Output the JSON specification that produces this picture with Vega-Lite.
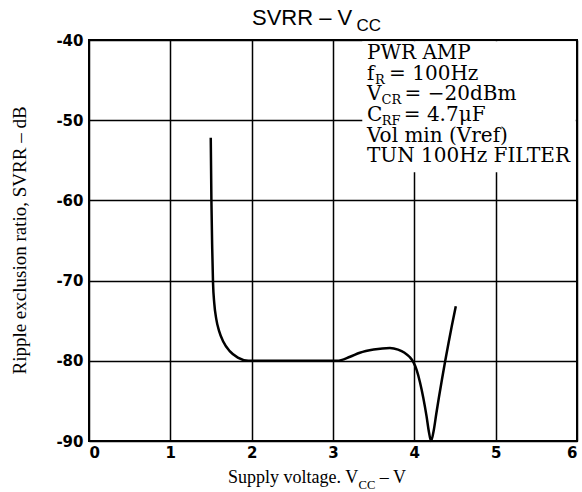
{
  "$schema": "https://vega.github.io/schema/vega-lite/v6.json",
  "autosize": {"type": "none"},
  "width": 488,
  "height": 401,
  "padding": {"left": 89, "top": 40, "right": 5, "bottom": 51},
  "background": "white",
  "config": {
    "view": {"stroke": "black", "strokeWidth": 2},
    "text": {"color": "black", "baseline": "alphabetic", "align": "left"}
  },
  "datasets": {
    "curve": [
      {"v": 1.497, "svrr": -52.2},
      {"v": 1.505, "svrr": -60.0},
      {"v": 1.515, "svrr": -66.0},
      {"v": 1.525, "svrr": -70.3},
      {"v": 1.54, "svrr": -72.8},
      {"v": 1.565, "svrr": -74.8},
      {"v": 1.6, "svrr": -76.3},
      {"v": 1.65, "svrr": -77.6},
      {"v": 1.73, "svrr": -78.8},
      {"v": 1.83, "svrr": -79.6},
      {"v": 1.96, "svrr": -80.0},
      {"v": 2.5, "svrr": -80.0},
      {"v": 3.05, "svrr": -80.0},
      {"v": 3.21, "svrr": -79.5},
      {"v": 3.33, "svrr": -79.0},
      {"v": 3.5, "svrr": -78.6},
      {"v": 3.7, "svrr": -78.4},
      {"v": 3.8, "svrr": -78.6},
      {"v": 3.88, "svrr": -79.0},
      {"v": 3.94, "svrr": -79.5},
      {"v": 3.99, "svrr": -80.2},
      {"v": 4.03, "svrr": -81.2},
      {"v": 4.07, "svrr": -82.7},
      {"v": 4.11, "svrr": -84.6},
      {"v": 4.15, "svrr": -86.9},
      {"v": 4.18, "svrr": -88.9},
      {"v": 4.205, "svrr": -90.0},
      {"v": 4.24, "svrr": -88.6},
      {"v": 4.27, "svrr": -86.6},
      {"v": 4.3, "svrr": -84.7},
      {"v": 4.34, "svrr": -82.3},
      {"v": 4.38, "svrr": -80.0},
      {"v": 4.42, "svrr": -77.8},
      {"v": 4.46, "svrr": -75.7},
      {"v": 4.51, "svrr": -73.2}
    ],
    "one": [{}]
  },
  "layer": [
    {
      "data": {"name": "curve"},
      "mark": {"type": "line", "color": "black", "strokeWidth": 2.5, "interpolate": "monotone"},
      "encoding": {
        "x": {
          "field": "v", "type": "quantitative",
          "scale": {"domain": [0, 6], "nice": false, "zero": false},
          "axis": {
            "values": [0, 1, 2, 3, 4, 5, 6], "format": "d", "grid": true, "gridColor": "black", "gridWidth": 1.5, "gridOpacity": 1,
            "domain": false, "ticks": false, "labelFont": "DejaVu Sans", "labelFontWeight": "bold", "labelFontSize": 15,
            "labelColor": "black", "labelPadding": 4, "labelFlush": true, "title": null
          }
        },
        "y": {
          "field": "svrr", "type": "quantitative",
          "scale": {"domain": [-90, -40], "nice": false, "zero": false},
          "axis": {
            "values": [-90, -80, -70, -60, -50, -40], "grid": true, "gridColor": "black", "gridWidth": 1.5, "gridOpacity": 1,
            "domain": false, "ticks": false, "labelFont": "DejaVu Sans", "labelFontWeight": "bold", "labelFontSize": 15,
            "labelColor": "black", "labelPadding": 6, "labelExpr": "'-' + abs(datum.value)",
            "title": "Ripple exclusion ratio, SVRR – dB", "titleFont": "Liberation Serif", "titleFontSize": 19,
            "titleFontWeight": "normal", "titleColor": "black", "titleX": -70, "titleY": 200, "titleAngle": 270,
            "titleBaseline": "middle", "titleAlign": "center"
          }
        }
      }
    },
    {
      "data": {"name": "one"},
      "mark": {"type": "rect", "color": "white", "opacity": 1},
      "encoding": {"x": {"datum": 3.36}, "x2": {"datum": 5.985}, "y": {"datum": -40.15}, "y2": {"datum": -56.5}}
    },
    {"data": {"name": "one"}, "mark": {"type": "text", "text": "SVRR – V", "font": "Liberation Sans", "fontSize": 22}, "encoding": {"x": {"datum": 2.004}, "y": {"datum": -38.13}}},
    {"data": {"name": "one"}, "mark": {"type": "text", "text": "CC", "font": "Liberation Sans", "fontSize": 17}, "encoding": {"x": {"datum": 3.29}, "y": {"datum": -38.88}}},
    {"data": {"name": "one"}, "mark": {"type": "text", "text": "Supply voltage. V", "font": "Liberation Serif", "fontSize": 18}, "encoding": {"x": {"datum": 1.709}, "y": {"datum": -95.24}}},
    {"data": {"name": "one"}, "mark": {"type": "text", "text": "CC", "font": "Liberation Serif", "fontSize": 12.6}, "encoding": {"x": {"datum": 3.314}, "y": {"datum": -95.99}}},
    {"data": {"name": "one"}, "mark": {"type": "text", "text": "– V", "font": "Liberation Serif", "fontSize": 18}, "encoding": {"x": {"datum": 3.576}, "y": {"datum": -95.24}}},
    {"data": {"name": "one"}, "mark": {"type": "text", "text": "PWR AMP", "font": "DejaVu Serif", "fontSize": 20}, "encoding": {"x": {"datum": 3.418}, "y": {"datum": -42.37}}},
    {"data": {"name": "one"}, "mark": {"type": "text", "text": "f", "font": "DejaVu Serif", "fontSize": 20}, "encoding": {"x": {"datum": 3.418}, "y": {"datum": -44.99}}},
    {"data": {"name": "one"}, "mark": {"type": "text", "text": "R", "font": "DejaVu Serif", "fontSize": 13}, "encoding": {"x": {"datum": 3.516}, "y": {"datum": -45.49}}},
    {"data": {"name": "one"}, "mark": {"type": "text", "text": "= 100Hz", "font": "DejaVu Serif", "fontSize": 20}, "encoding": {"x": {"datum": 3.69}, "y": {"datum": -44.99}}},
    {"data": {"name": "one"}, "mark": {"type": "text", "text": "V", "font": "DejaVu Serif", "fontSize": 20}, "encoding": {"x": {"datum": 3.418}, "y": {"datum": -47.54}}},
    {"data": {"name": "one"}, "mark": {"type": "text", "text": "CR", "font": "DejaVu Serif", "fontSize": 13}, "encoding": {"x": {"datum": 3.597}, "y": {"datum": -48.04}}},
    {"data": {"name": "one"}, "mark": {"type": "text", "text": "= −20dBm", "font": "DejaVu Serif", "fontSize": 20}, "encoding": {"x": {"datum": 3.88}, "y": {"datum": -47.54}}},
    {"data": {"name": "one"}, "mark": {"type": "text", "text": "C", "font": "DejaVu Serif", "fontSize": 20}, "encoding": {"x": {"datum": 3.418}, "y": {"datum": -50.1}}},
    {"data": {"name": "one"}, "mark": {"type": "text", "text": "RF", "font": "DejaVu Serif", "fontSize": 13}, "encoding": {"x": {"datum": 3.599}, "y": {"datum": -50.6}}},
    {"data": {"name": "one"}, "mark": {"type": "text", "text": "= 4.7μF", "font": "DejaVu Serif", "fontSize": 20}, "encoding": {"x": {"datum": 3.87}, "y": {"datum": -50.1}}},
    {"data": {"name": "one"}, "mark": {"type": "text", "text": "Vol min (Vref)", "font": "DejaVu Serif", "fontSize": 20}, "encoding": {"x": {"datum": 3.418}, "y": {"datum": -52.66}}},
    {"data": {"name": "one"}, "mark": {"type": "text", "text": "TUN 100Hz FILTER", "font": "DejaVu Serif", "fontSize": 20}, "encoding": {"x": {"datum": 3.418}, "y": {"datum": -55.21}}}
  ]
}
